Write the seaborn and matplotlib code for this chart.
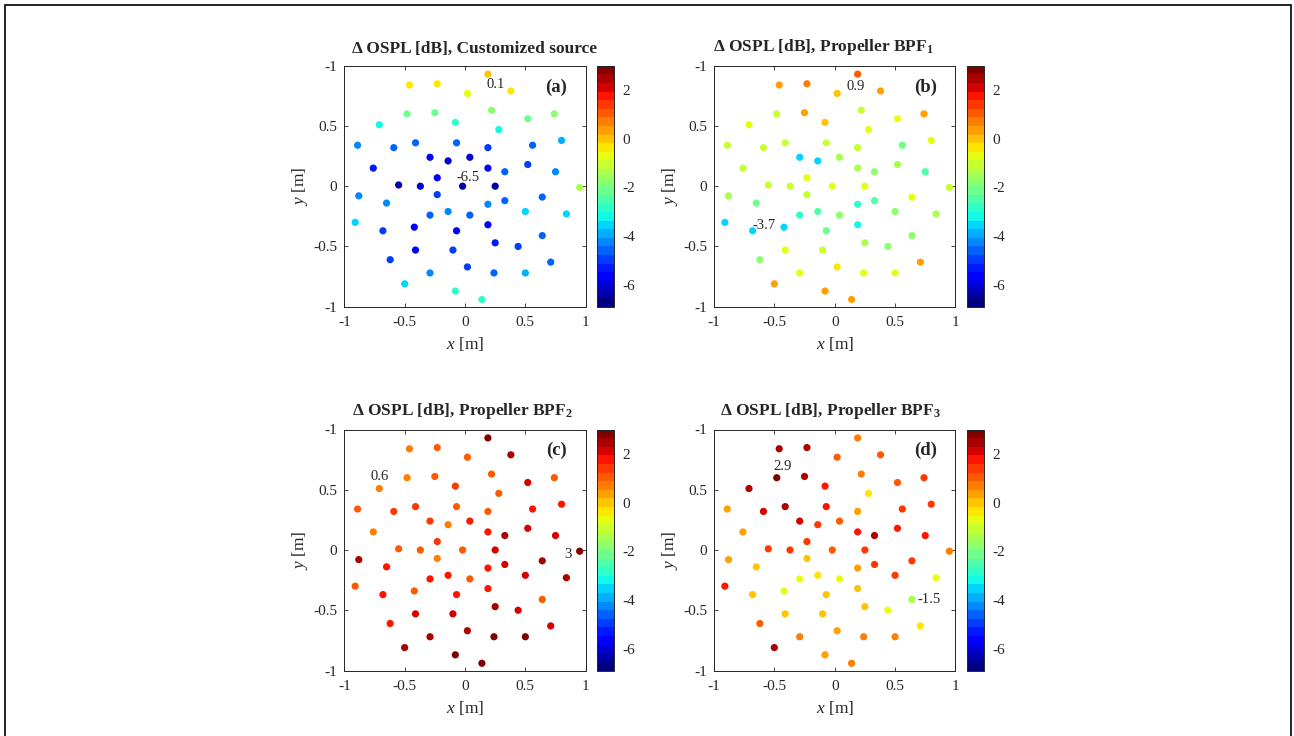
import matplotlib
matplotlib.use("Agg")
import matplotlib.pyplot as plt
import matplotlib.colors as mcolors
from matplotlib.patches import Rectangle
import seaborn as sns
import numpy as np
import pandas as pd

# microphone positions [m]
mic_x = [0.19, -0.46, -0.23, 0.02, 0.38, -0.48, -0.25, 0.22, 0.52, 0.74,
         -0.71, -0.08, 0.28, -0.89, -0.59, -0.41, -0.07, 0.19, 0.56, 0.80,
         -0.29, -0.14, 0.04, -0.76, 0.19, 0.33, 0.52, 0.75, -0.23, -0.55,
         -0.37, -0.02, 0.25, 0.95, -0.88, -0.23, -0.65, 0.19, 0.33, 0.64,
         -0.29, -0.14, 0.04, 0.50, 0.84, -0.91, -0.68, -0.42, -0.07, 0.19,
         0.64, -0.41, -0.10, 0.25, 0.44, -0.62, 0.02, 0.71, -0.29, 0.24,
         0.50, -0.50, -0.08, 0.14]
mic_y = [0.93, 0.84, 0.85, 0.77, 0.79, 0.60, 0.61, 0.63, 0.56, 0.60,
         0.51, 0.53, 0.47, 0.34, 0.32, 0.36, 0.36, 0.32, 0.34, 0.38,
         0.24, 0.21, 0.24, 0.15, 0.15, 0.12, 0.18, 0.12, 0.07, 0.01,
         0.00, 0.00, 0.00, -0.01, -0.08, -0.07, -0.14, -0.15, -0.12, -0.09,
         -0.24, -0.21, -0.24, -0.21, -0.23, -0.30, -0.37, -0.34, -0.37, -0.32,
         -0.41, -0.53, -0.53, -0.47, -0.50, -0.61, -0.67, -0.63, -0.72, -0.72,
         -0.72, -0.81, -0.87, -0.94]

# delta OSPL [dB] per microphone
dospl_custom = [0.1, -0.3, -0.3, -0.7, -0.3, -2.2, -2.1, -1.6, -2.1, -1.9,
                -3.2, -2.8, -3.3, -4.4, -4.7, -4.7, -4.6, -4.9, -4.7, -3.9,
                -5.5, -5.9, -5.9, -5.4, -5.5, -4.7, -5.1, -4.4, -5.5, -6.3,
                -5.9, -6.5, -6.3, -1.4, -4.1, -5.0, -4.1, -4.2, -4.7, -4.5,
                -4.7, -4.1, -4.7, -3.6, -3.4, -3.5, -4.9, -5.7, -5.7, -5.5,
                -4.7, -5.6, -4.9, -5.4, -4.8, -4.9, -4.9, -4.5, -4.1, -4.5,
                -4.0, -3.5, -2.9, -2.7]
dospl_bpf1 = [0.9, 0.4, 0.7, -0.1, 0.4, -1.0, 0.4, -1.1, -0.7, 0.4,
              -0.6, -0.1, -0.6, -1.0, -1.2, -1.1, -1.1, -1.2, -2.0, -0.6,
              -3.5, -3.4, -1.5, -1.1, -1.4, -1.6, -1.5, -2.5, -0.7, -1.0,
              -1.0, -0.7, -0.7, -0.9, -1.5, -1.1, -2.1, -2.7, -2.5, -0.6,
              -2.7, -2.4, -1.6, -1.6, -1.5, -3.4, -3.7, -3.5, -2.0, -3.1,
              -1.6, -0.7, -1.0, -1.5, -1.6, -1.9, -0.2, 0.4, -0.6, -0.6,
              -0.6, 0.3, 0.3, 0.3]
dospl_bpf2 = [2.7, 0.6, 1.1, 1.2, 2.4, 0.7, 1.2, 1.1, 2.0, 0.9,
              0.6, 1.3, 1.0, 0.9, 1.3, 1.3, 1.2, 1.2, 1.9, 1.8,
              1.4, 0.7, 1.7, 0.7, 1.8, 2.3, 2.2, 2.2, 1.3, 1.2,
              1.1, 1.2, 2.2, 3.0, 2.3, 0.7, 1.8, 1.8, 2.0, 2.3,
              1.7, 1.8, 1.1, 2.2, 2.4, 1.2, 1.7, 1.2, 1.8, 1.9,
              1.0, 2.2, 2.1, 2.5, 2.2, 1.8, 2.6, 2.0, 2.4, 2.7,
              2.7, 2.5, 2.8, 2.8]
dospl_bpf3 = [0.7, 2.5, 2.3, 1.2, 0.9, 2.9, 2.6, 0.8, 1.0, 1.3,
              2.3, 1.8, -0.4, 0.4, 2.2, 2.6, 1.8, 0.5, 1.4, 1.3,
              2.1, 1.4, 1.0, 0.5, 1.8, 2.5, 1.9, 1.7, 1.3, 1.4,
              1.3, 1.0, 1.4, 0.6, 0.2, 0.1, -0.1, 0.4, 1.3, 1.4,
              -0.7, -0.2, -0.6, 1.4, -0.6, 1.7, 0.0, -0.6, -0.1, -0.1,
              -1.5, 0.0, 0.0, 0.0, -0.6, 0.9, 0.4, -0.3, 0.8, 0.7,
              0.7, 2.3, 0.5, 0.8]

titles = [r"Δ OSPL [dB], Customized source",
          r"Δ OSPL [dB], Propeller BPF$_\mathbf{1}$",
          r"Δ OSPL [dB], Propeller BPF$_\mathbf{2}$",
          r"Δ OSPL [dB], Propeller BPF$_\mathbf{3}$"]
panel_tags = ["(a)", "(b)", "(c)", "(d)"]
series = [dospl_custom, dospl_bpf1, dospl_bpf2, dospl_bpf3]

# annotated extremes: (point index, label, offset in points)
extremes = [[(0, "0.1", (5.5, -7.7)), (31, "-6.5", (4, 6.5))],
            [(0, "0.9", (-1.2, -8.9)), (46, "-3.7", (8.2, 3.6))],
            [(10, "0.6", (0, 8.4)), (33, "3", (-8.4, -2.2))],
            [(5, "2.9", (4.1, 7.9)), (50, "-1.5", (12.7, 0))]]

clim = (-6.9, 3.0)
cbar_ticks = [-6, -4, -2, 0, 2]
xtick_labels = ["-1", "-0.5", "0", "0.5", "1"]
ytick_labels = ["-1", "-0.5", "0", "0.5", "-1"]

sns.set_style("ticks")
plt.rcParams["font.family"] = ["Liberation Serif", "DejaVu Serif"]
plt.rcParams["mathtext.fontset"] = "custom"
plt.rcParams["mathtext.rm"] = "Liberation Serif"
plt.rcParams["mathtext.it"] = "Liberation Serif:italic"
plt.rcParams["mathtext.bf"] = "Liberation Serif:bold"
plt.rcParams["axes.unicode_minus"] = False

W, H = 1294, 736
fig = plt.figure(figsize=(W / 100, H / 100), dpi=100)

cmap = plt.get_cmap("jet").resampled(28)
norm = mcolors.Normalize(vmin=clim[0], vmax=clim[1])

# axes boxes in pixels: left, top
boxes = [(344.3, 65.7), (714.0, 65.7), (344.3, 429.5), (714.0, 429.5)]
aw, ah = 241.4, 241.0
title_x = [0.541, 0.454, 0.488, 0.481]

for i, (left, top) in enumerate(boxes):
    ax = fig.add_axes([left / W, 1 - (top + ah) / H, aw / W, ah / H])
    df = pd.DataFrame({"x": mic_x, "y": mic_y, "v": series[i]})
    sns.scatterplot(data=df, x="x", y="y", hue="v", palette=cmap, hue_norm=norm,
                    s=27, linewidth=0, legend=False, ax=ax)
    ax.set_xlim(-1, 1)
    ax.set_ylim(-1, 1)
    ax.set_xticks([-1, -0.5, 0, 0.5, 1])
    ax.set_xticklabels(xtick_labels)
    ax.set_yticks([-1, -0.5, 0, 0.5, 1])
    ax.set_yticklabels(ytick_labels)
    ax.tick_params(direction="in", length=3, width=0.6, labelsize=11,
                   top=True, right=True, colors="#262626")
    ax.tick_params(axis="x", pad=7)
    ax.tick_params(axis="y", pad=5)
    for sp in ax.spines.values():
        sp.set_linewidth(0.7)
        sp.set_color("#262626")
    ax.set_xlabel(r"$\mathit{x}$ [m]", fontsize=12.5, labelpad=4)
    ax.set_ylabel(r"$\mathit{y}$ [m]", fontsize=12.5, labelpad=2)
    ax.text(title_x[i], 1.035, titles[i], transform=ax.transAxes, ha="center",
            va="bottom", fontsize=12.5, fontweight="bold")
    ax.text(0.877, 0.912, panel_tags[i], transform=ax.transAxes, ha="center",
            va="center", fontsize=13.5, fontweight="bold")
    for idx, lab, off in extremes[i]:
        ax.annotate(lab, (mic_x[idx], mic_y[idx]), xytext=off,
                    textcoords="offset points", ha="center", va="center",
                    fontsize=10.5)

    cax = fig.add_axes([(left + 253) / W, 1 - (top + ah) / H, 17 / W, ah / H])
    sm = plt.cm.ScalarMappable(norm=norm, cmap=cmap)
    cb = fig.colorbar(sm, cax=cax, ticks=cbar_ticks)
    cb.outline.set_linewidth(0.7)
    cb.outline.set_edgecolor("#262626")
    cax.tick_params(direction="in", length=3, width=0.6, labelsize=11,
                    pad=6, colors="#262626")

# frame around the figure
fig.patches.append(Rectangle((5 / W, -0.02), (1290.5 - 5) / W, 1.02 - 5 / H,
                             transform=fig.transFigure, fill=False,
                             edgecolor="black", linewidth=1.2))

fig.savefig("out.png", dpi=100)
